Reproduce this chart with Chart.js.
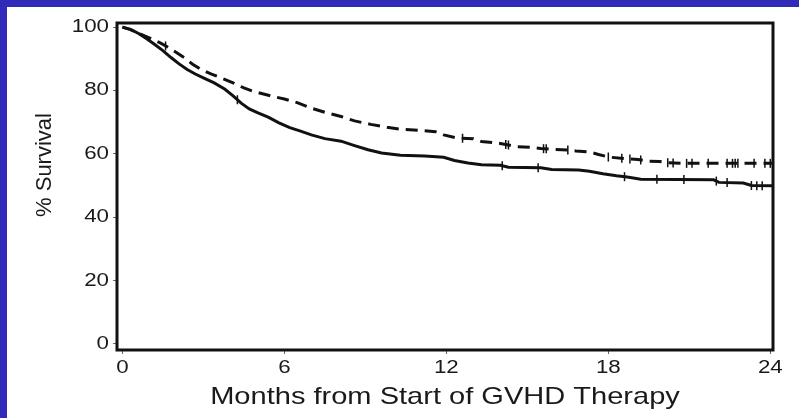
<!DOCTYPE html>
<html>
<head>
<meta charset="utf-8">
<script src="https://cdn.jsdelivr.net/npm/chart.js@4/dist/chart.umd.min.js"></script>
<style>
  html, body { margin: 0; padding: 0; width: 799px; height: 418px; overflow: hidden; background: #302cb9; }
  #panel { position: absolute; left: 7px; top: 7px; width: 792px; height: 411px; background: #ffffff; }
  canvas { display: block; }
</style>
</head>
<body>
<div id="panel"><canvas id="km" width="792" height="411"></canvas></div>
<script>
// Axis ticks
const monthTicks = [0, 6, 12, 18, 24];
const survivalTicks = [0, 20, 40, 60, 80, 100];

// Solid curve (month, % surviving)
const monthsA = [0, 0.3, 0.6, 0.9, 1.2, 1.5, 1.8, 2.1, 2.4, 2.7, 3.0, 3.4, 3.8, 4.1, 4.4, 4.7, 5.0, 5.4, 5.8, 6.2,
  6.6, 7.0, 7.5, 8.1, 8.6, 9.1, 9.6, 10.3, 11.2, 11.9, 12.3, 12.8, 13.3, 14.0, 14.3, 15.5, 15.9, 16.9, 17.3, 17.8,
  18.3, 18.7, 19.2, 21.9, 22.1, 23.0, 23.3, 24.1];
const survivalA = [100, 99.3, 98.0, 96.3, 94.5, 92.6, 90.4, 88.4, 86.6, 85.2, 84.0, 82.4, 80.4, 78.3, 76.0, 74.2, 73.0, 71.6, 69.8, 68.3,
  67.2, 66.0, 64.8, 64.0, 62.6, 61.3, 60.3, 59.6, 59.3, 58.9, 57.9, 57.1, 56.6, 56.4, 55.8, 55.6, 55.1, 54.9, 54.5, 53.7,
  53.1, 52.7, 52.0, 51.8, 51.0, 50.8, 50.0, 49.9];
const censorA = [4.26, 14.07, 15.4, 18.6, 19.8, 20.8, 22.0, 22.4, 23.3, 23.5, 23.7];

// Dashed curve
const monthsB = [0, 0.3, 0.5, 0.8, 1.1, 1.4, 1.7, 2.0, 2.3, 2.6, 2.9, 3.3, 3.7, 4.1, 4.5, 4.9, 5.5, 6.0, 6.5, 7.0,
  7.5, 8.1, 8.6, 9.2, 9.8, 10.3, 11.1, 11.6, 11.9, 12.4, 13.0, 13.3, 14.0, 14.6, 15.1, 15.5, 16.0, 16.5, 16.8, 17.3,
  17.6, 18.0, 18.6, 19.1, 19.5, 19.9, 20.2, 20.7, 24.1];
const survivalB = [100, 99.2, 98.4, 97.3, 96.2, 95.0, 93.6, 92.0, 90.3, 88.3, 86.7, 85.2, 83.8, 82.4, 80.8, 79.6, 78.3, 77.3, 76.1, 74.4,
  73.1, 71.8, 70.4, 69.3, 68.4, 67.8, 67.4, 67.0, 66.0, 65.0, 64.8, 63.9, 63.3, 62.3, 62.1, 61.7, 61.4, 61.2, 60.9, 60.6,
  59.9, 59.0, 58.5, 58.2, 57.7, 57.6, 57.2, 57.0, 57.0];
const censorB = [1.6, 12.6, 14.2, 14.3, 15.6, 15.7, 16.5, 18.0, 18.5, 18.8, 19.2, 20.2, 20.4, 20.9, 21.1, 21.7,
  22.4, 22.6, 22.7, 22.8, 23.4, 23.8, 24.0];

// Value of a curve at time t (linear between listed points)
function survivalAt(months, surv, t) {
  for (let i = 1; i < months.length; i++) {
    if (t <= months[i]) {
      const f = (t - months[i - 1]) / (months[i] - months[i - 1]);
      return surv[i - 1] + f * (surv[i] - surv[i - 1]);
    }
  }
  return surv[surv.length - 1];
}

const toPoints = (xs, ys) => xs.map((x, i) => ({ x: x, y: ys[i] }));
const censorPoints = (ts, xs, ys) => ts.map(t => ({ x: t, y: survivalAt(xs, ys, t) }));

const INK = '#111111';
const TEXT = '#1a1a1a';
const fontFamily = '"Liberation Sans", Arial, Helvetica, sans-serif';

// Wide lettering: horizontal text is drawn stretched sideways
const canvas = document.getElementById('km');
const ctx2d = canvas.getContext('2d');
const rawFillText = ctx2d.fillText.bind(ctx2d);
ctx2d.fillText = function (text, x, y, maxWidth) {
  const m = this.getTransform();
  if (Math.abs(m.b) > 1e-6) {
    return maxWidth === undefined ? rawFillText(text, x, y) : rawFillText(text, x, y, maxWidth);
  }
  const stretch = this.font.indexOf('24px') >= 0 ? 1.21 : 1.24;
  this.save();
  this.translate(x, y);
  this.scale(stretch, 1);
  if (maxWidth === undefined) rawFillText(text, 0, 0); else rawFillText(text, 0, 0, maxWidth);
  this.restore();
};

// Frame around the plotting area and the vertical axis title
const framePlugin = {
  id: 'frame',
  afterDatasetsDraw(chart) {
    const { ctx, chartArea: a } = chart;
    ctx.save();
    ctx.strokeStyle = INK;
    ctx.lineWidth = 3;
    ctx.strokeRect(a.left, a.top, a.right - a.left, a.bottom - a.top);
    ctx.restore();
  },
  afterDraw(chart) {
    const { ctx } = chart;
    ctx.save();
    ctx.translate(38, 158);
    ctx.rotate(-Math.PI / 2);
    ctx.font = '22px ' + fontFamily;
    ctx.fillStyle = TEXT;
    ctx.textAlign = 'center';
    ctx.textBaseline = 'middle';
    ctx.fillText('% Survival', 0, 0);
    ctx.restore();
  }
};

new Chart(canvas, {
  type: 'scatter',
  data: {
    datasets: [
      {
        data: toPoints(monthsB, survivalB),
        showLine: true, borderColor: INK, borderWidth: 3, tension: 0,
        borderDash: [12, 7], pointRadius: 0, fill: false
      },
      {
        data: toPoints(monthsA, survivalA),
        showLine: true, borderColor: INK, borderWidth: 3, tension: 0,
        pointRadius: 0, fill: false
      },
      {
        data: censorPoints(censorB, monthsB, survivalB),
        showLine: false, pointStyle: 'line', rotation: 90, pointRadius: 4.5,
        borderColor: INK, borderWidth: 1.5, backgroundColor: INK
      },
      {
        data: censorPoints(censorA, monthsA, survivalA),
        showLine: false, pointStyle: 'line', rotation: 90, pointRadius: 4.5,
        borderColor: INK, borderWidth: 1.5, backgroundColor: INK
      }
    ]
  },
  options: {
    responsive: false,
    animation: false,
    devicePixelRatio: 1,
    layout: { padding: { left: 0, right: 26, top: 16, bottom: 0 } },
    plugins: { legend: { display: false }, tooltip: { enabled: false } },
    scales: {
      x: {
        type: 'linear', min: -0.2, max: 24.1,
        afterBuildTicks: s => { s.ticks = monthTicks.map(v => ({ value: v })); },
        afterFit: s => { s.height = 68; },
        grid: { display: true, drawOnChartArea: false, drawTicks: true, tickLength: 4, color: '#666', lineWidth: 1 },
        border: { display: false },
        ticks: { color: TEXT, padding: 3, maxRotation: 0, font: { family: fontFamily, size: 18 } },
        title: { display: true, text: 'Months from Start of GVHD Therapy', color: TEXT,
          font: { family: fontFamily, size: 24 }, padding: { top: 0, bottom: 6 } }
      },
      y: {
        type: 'linear', min: -1.9, max: 101.3,
        afterBuildTicks: s => { s.ticks = survivalTicks.map(v => ({ value: v })); },
        afterFit: s => { s.width = 110; },
        grid: { display: true, drawOnChartArea: false, drawTicks: true, tickLength: 4, color: '#666', lineWidth: 1 },
        border: { display: false },
        ticks: { color: TEXT, padding: 4, font: { family: fontFamily, size: 18 } },
        title: { display: false }
      }
    }
  },
  plugins: [framePlugin]
});
</script>
</body>
</html>
